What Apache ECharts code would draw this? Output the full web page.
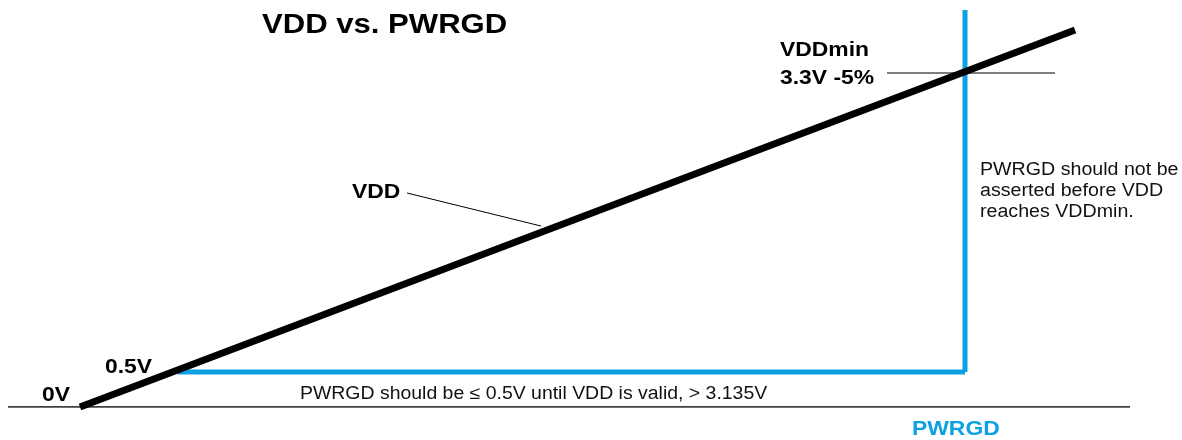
<!DOCTYPE html>
<html>
<head>
<meta charset="utf-8">
<script src="https://cdn.jsdelivr.net/npm/echarts@6/dist/echarts.min.js"></script>
<style>
  html, body { margin: 0; padding: 0; background: #fff; }
  #chart { width: 1182px; height: 440px; }
</style>
</head>
<body>
<div id="chart"></div>
<script>
// schematic units (not to scale): time on x, level on y
const baseline = [[0, 0], [1122, 0]];
const vdd = [[72, 0], [1067, 377]];
const pwrgdLow = [[170, 35], [957, 35]];
const pwrgdEdge = [[957, 35], [957, 397]];
const vddMinMark = [[879, 334], [1047, 334]];
const vddLeader = [[399, 214], [533, 181]];

const blue = '#0ba1e2';
const font = 'Arial, "Liberation Sans", sans-serif';

const myChart = echarts.init(document.querySelector('#chart'));

function seg(data, color, width, z) {
  return {
    type: 'line',
    data: data,
    symbol: 'none',
    silent: true,
    animation: false,
    z: z,
    lineStyle: { color: color, width: width, cap: 'butt' }
  };
}

// text annotations, slightly stretched horizontally like the source image
function label(x, y, text, size, opts) {
  opts = opts || {};
  return {
    type: 'text',
    x: x,
    y: y,
    scaleX: opts.scaleX || 1.09,
    silent: true,
    style: {
      text: text,
      x: 0,
      y: 0,
      verticalAlign: 'top',
      font: (opts.bold ? 'bold ' : '') + size + 'px ' + font,
      fill: opts.color || (opts.bold ? '#000' : '#111'),
      lineHeight: opts.lineHeight || size
    }
  };
}

myChart.setOption({
  animation: false,
  grid: { left: 8, right: 52, top: 0, bottom: 33 },
  xAxis: { type: 'value', min: 0, max: 1122, show: false },
  yAxis: { type: 'value', min: 0, max: 407, show: false },
  series: [
    seg(baseline, '#000', 1.5, 1),
    seg(vddLeader, '#000', 1, 2),
    seg(vddMinMark, '#000', 1, 2),
    seg(pwrgdLow, blue, 5, 3),
    seg(pwrgdEdge, blue, 5, 3),
    seg(vdd, '#000', 7, 4)
  ],
  graphic: [
    label(262, 11, 'VDD vs. PWRGD', 28, { bold: true, scaleX: 1.11 }),
    label(42, 385, '0V', 21, { bold: true }),
    label(105, 357, '0.5V', 21, { bold: true }),
    label(352, 182, 'VDD', 21, { bold: true }),
    label(780, 36, 'VDDmin\n3.3V -5%', 21, { bold: true, lineHeight: 28 }),
    label(980, 160, 'PWRGD should not be\nasserted before VDD\nreaches VDDmin.', 18, { lineHeight: 21 }),
    label(300, 385, 'PWRGD should be \u2264 0.5V until VDD is valid, > 3.135V', 18, { scaleX: 1.08 }),
    label(912, 419, 'PWRGD', 21, { bold: true, color: blue })
  ]
});
</script>
</body>
</html>
